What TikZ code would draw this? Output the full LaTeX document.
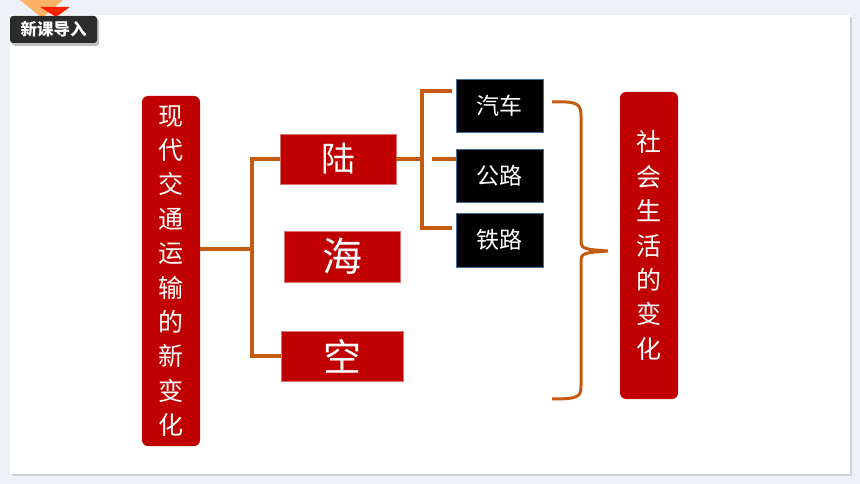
\documentclass[tikz,border=0pt]{standalone}
\usepackage{fontspec}
\setmainfont{Noto Sans CJK SC}
\usepackage{xcolor}
\usepackage{tikz}
\usetikzlibrary{positioning}
\definecolor{pagebg}{HTML}{EEF2F8}
\definecolor{deepred}{HTML}{C00000}
\definecolor{rust}{HTML}{C55A11}
\definecolor{edgeblue}{HTML}{41719C}
\definecolor{badgegray}{HTML}{2B2B2B}

\begin{document}
\begin{tikzpicture}[
    x=1pt,y=-1pt,
    redcol/.style={fill=deepred,rounded corners=6pt,inner sep=0pt,align=center,text=white,
      minimum width=58pt,font=\fontsize{25}{34.4}\selectfont},
    redbox/.style={fill=deepred,draw=deepred!55!white,line width=0.6pt,inner sep=0pt,text=white,
      minimum height=50pt},
    blackbox/.style={fill=black,draw=edgeblue,line width=0.6pt,inner sep=0pt,text=white,
      minimum width=87pt,minimum height=53pt,font=\fontsize{23}{26}\selectfont},
    link/.style={draw=rust,line width=3.4pt}
  ]
    \useasboundingbox (0,0) rectangle (860,484);
    \fill[pagebg] (0,0) rectangle (860,484);
    % slide
    \fill[black!18] (12,17) rectangle (852,476);
    \fill[white] (10,15) rectangle (850,474);
    \fill[orange!60!white] (20,0) -- (63,0) -- (42,18) -- cycle;
    \fill[red!75!orange] (40,7) -- (70,7) -- (56,17) -- cycle;
    \fill[black!25,rounded corners=3pt] (12,18) rectangle (99,46);
    \node[fill=badgegray,rounded corners=3pt,minimum width=87pt,minimum height=27pt,inner sep=0pt,
      text=white,font=\fontsize{16.5}{18}\selectfont\bfseries] (badge) at (53.5,29.5) {新课导入};

    \node[redcol,minimum height=350pt] (lbox) at (171,271)
      {现\\代\\交\\通\\运\\输\\的\\新\\变\\化};
    \node[redbox,minimum width=116pt,font=\fontsize{34}{38}\selectfont] (lu) at (338,159) {陆};
    \node[redbox,minimum width=116pt,minimum height=51pt,font=\fontsize{40}{44}\selectfont] (hai) at (342,256.5) {海};
    \node[redbox,minimum width=122pt,font=\fontsize{38}{42}\selectfont] (kong) at (342,356) {空};

    \node[blackbox] (car) at (499.5,105.5) {汽车};
    \node[blackbox] (road) at (499.5,175.5) {公路};
    \node[blackbox,minimum height=54pt] (rail) at (499.5,240) {铁路};

    \node[redcol,minimum height=307pt] (rbox) at (649,245.5)
      {社\\会\\生\\活\\的\\变\\化};

    % brackets
    \coordinate (j1) at (252,249);
    \draw[link] (lbox.east |- j1) -- (j1);
    \draw[link] (lu.west) -| (j1) |- (kong.west);

    \coordinate (j2) at (422,159);
    \coordinate (b2top) at (422,91);
    \coordinate (b2bot) at (422,228);
    \draw[link] (lu.east) -- (j2);
    \draw[link] (452,91) -- (b2top) -- (b2bot) -- (452,228);
    \draw[link] (432,159) -- (road.west |- j2);

    \coordinate (bt) at (552,102);
    \coordinate (bm) at (608,251);
    \coordinate (bb) at (552,399);
    \draw[rust,line width=3pt] (bt) .. controls (578,101) and (581,104) .. (581,116)
      -- (581,238) .. controls (581,249) .. (bm)
      .. controls (581,253) .. (581,264) -- (581,386)
      .. controls (581,397) and (578,399) .. (bb);
  \end{tikzpicture}
\end{document}
